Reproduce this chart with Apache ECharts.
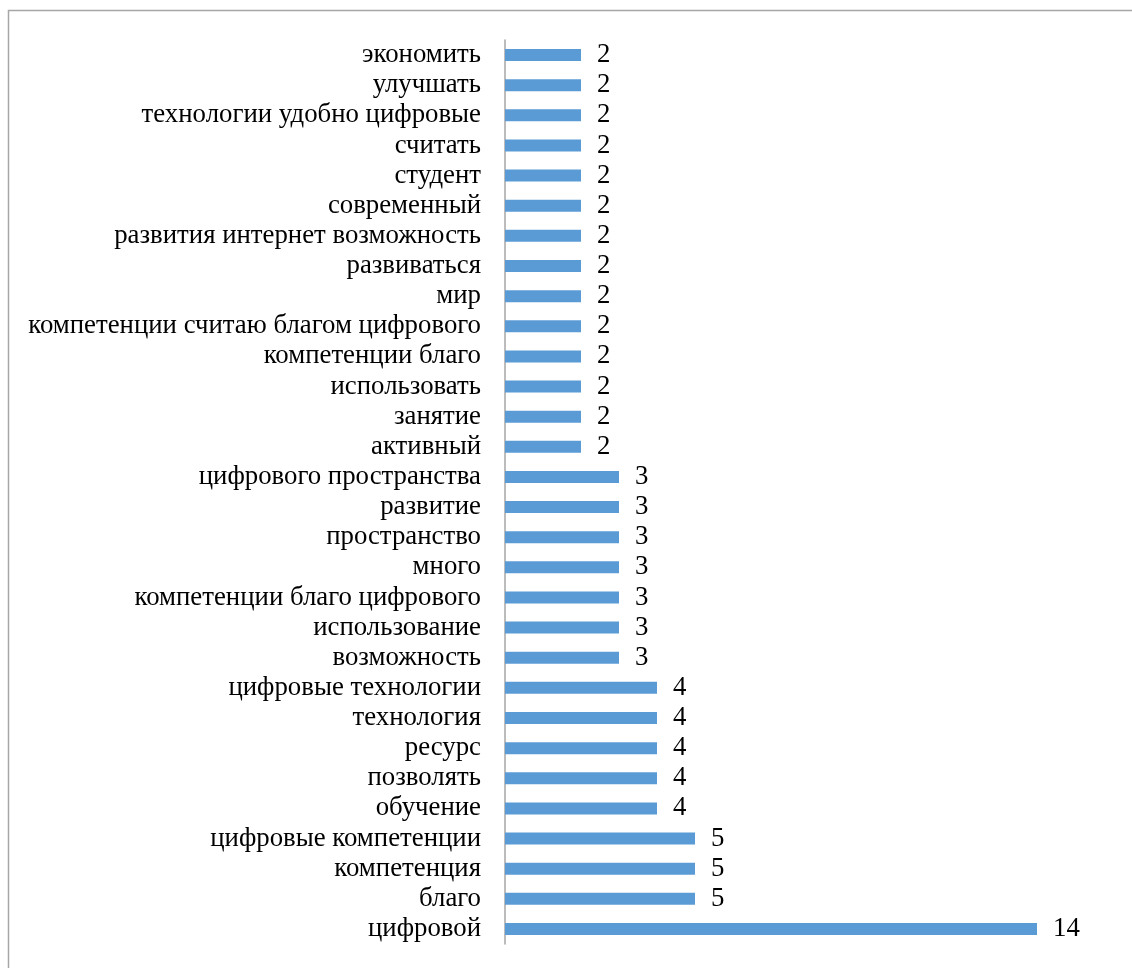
<!DOCTYPE html>
<html>
<head>
<meta charset="utf-8">
<script src="https://cdn.jsdelivr.net/npm/echarts@6/dist/echarts.min.js"></script>
<style>
  html, body { margin: 0; padding: 0; background: #fff; }
  #chart { width: 1132px; height: 968px; }
</style>
</head>
<body>
<div id="chart"></div>
<script>
// Word frequencies, listed bottom-to-top as they appear on the category axis
const words = [
  'цифровой', 'благо', 'компетенция', 'цифровые компетенции',
  'обучение', 'позволять', 'ресурс', 'технология', 'цифровые технологии',
  'возможность', 'использование', 'компетенции благо цифрового', 'много',
  'пространство', 'развитие', 'цифрового пространства',
  'активный', 'занятие', 'использовать', 'компетенции благо',
  'компетенции считаю благом цифрового', 'мир', 'развиваться',
  'развития интернет возможность', 'современный', 'студент', 'считать',
  'технологии удобно цифровые', 'улучшать', 'экономить'
];
const counts = [
  14, 5, 5, 5,
  4, 4, 4, 4, 4,
  3, 3, 3, 3, 3, 3, 3,
  2, 2, 2, 2, 2, 2, 2, 2, 2, 2, 2, 2, 2, 2
];

const chart = echarts.init(document.getElementById('chart'), null, { renderer: 'canvas' });
const font = '"Liberation Serif", "Times New Roman", serif';

chart.setOption({
  animation: false,
  backgroundColor: '#ffffff',
  graphic: [{
    type: 'rect',
    shape: { x: 8.5, y: 10.5, width: 1300, height: 1100 },
    style: { fill: 'none', stroke: '#a6a6a6', lineWidth: 1.5 },
    silent: true
  }],
  grid: { left: 505, top: 40, width: 570, height: 904, containLabel: false },
  xAxis: {
    type: 'value',
    min: 0,
    max: 15,
    show: false
  },
  yAxis: {
    type: 'category',
    data: words,
    axisLine: { show: true, lineStyle: { color: '#a6a6a6', width: 1.5 } },
    axisTick: { show: false },
    axisLabel: {
      interval: 0,
      color: '#000',
      fontFamily: font,
      fontSize: 26.8,
      margin: 24,
      padding: [6, 0, 0, 0]
    },
    splitLine: { show: false }
  },
  series: [{
    type: 'bar',
    data: counts,
    barWidth: 12,
    itemStyle: { color: '#5b9bd5' },
    label: {
      show: true,
      position: 'right',
      distance: 16,
      color: '#000',
      fontFamily: font,
      fontSize: 26.8,
      padding: [5, 0, 0, 0]
    }
  }]
});
</script>
</body>
</html>
